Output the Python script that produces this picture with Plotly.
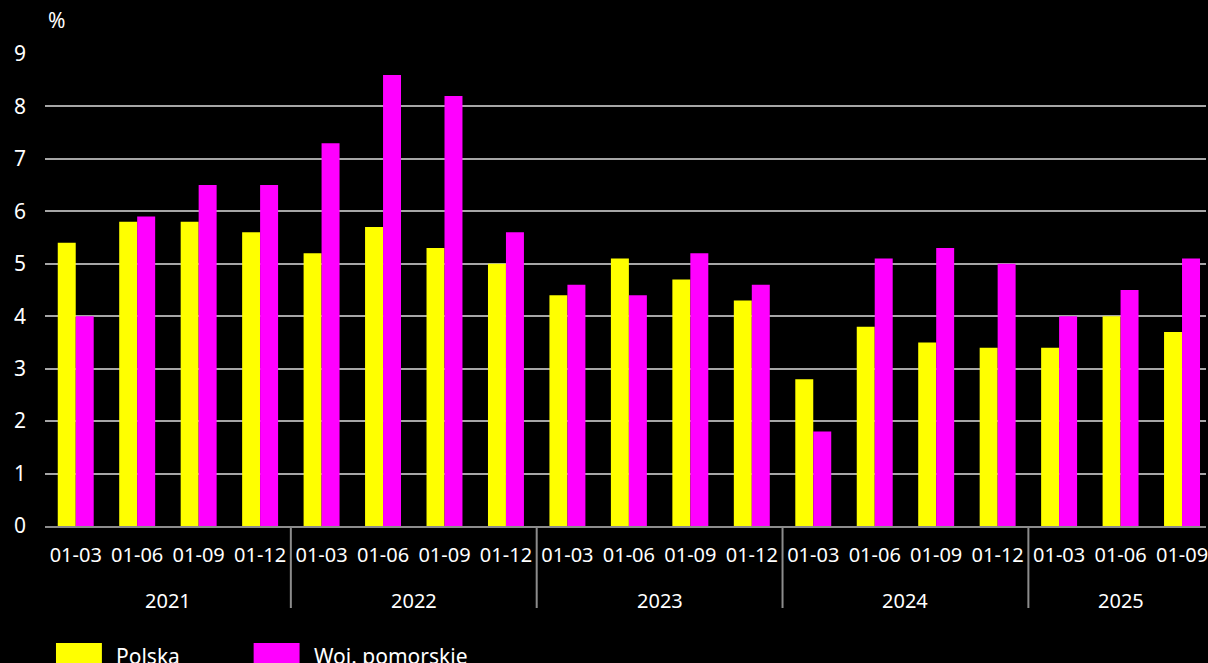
import plotly.graph_objects as go

years = ["2021"] * 4 + ["2022"] * 4 + ["2023"] * 4 + ["2024"] * 4 + ["2025"] * 3
months = ["01-03", "01-06", "01-09", "01-12"] * 4 + ["01-03", "01-06", "01-09"]
polska = [5.4, 5.8, 5.8, 5.6, 5.2, 5.7, 5.3, 5.0, 4.4, 5.1, 4.7, 4.3, 2.8, 3.8, 3.5, 3.4, 3.4, 4.0, 3.7]
pomorskie = [4.0, 5.9, 6.5, 6.5, 7.3, 8.6, 8.2, 5.6, 4.6, 4.4, 5.2, 4.6, 1.8, 5.1, 5.3, 5.0, 4.0, 4.5, 5.1]
y_ticks = [0, 1, 2, 3, 4, 5, 6, 7, 8, 9]

YELLOW = "#FFFF00"
MAGENTA = "#FF00FF"
GREY = "#8c8c8c"
FONT = "Noto Sans"

idx = list(range(len(months)))

fig = go.Figure()
fig.add_trace(go.Bar(x=idx, y=polska, name="Polska", marker_color=YELLOW,
                     marker_line_width=0, customdata=years))
fig.add_trace(go.Bar(x=idx, y=pomorskie, name="Woj. pomorskie", marker_color=MAGENTA,
                     marker_line_width=0, customdata=years))

PLOT_H = 663 - 54 - 137

fig.update_layout(
    width=1208, height=663,
    paper_bgcolor="black", plot_bgcolor="black",
    margin=dict(l=45, r=0, t=54, b=137),
    barmode="group", bargap=0.415, bargroupgap=0,
    showlegend=False,
    font=dict(family=FONT, size=21, color="white"),
)
fig.update_xaxes(
    range=[-0.5, 18.39],
    tickvals=idx, ticktext=months,
    showgrid=False, zeroline=False,
    showline=True, linecolor=GREY, linewidth=2,
    tickfont=dict(family=FONT, size=20, color="white"),
    tickangle=0, ticklabeloverflow="allow",
    ticks="", ticklabelstandoff=10,
)
fig.update_yaxes(
    range=[0, 9], tickvals=y_ticks,
    showgrid=True, gridcolor="#a6a6a6", gridwidth=1.5,
    zeroline=False,
    showline=False,
    ticks="", ticklabelstandoff=18,
    tickfont=dict(family=FONT, size=21, color="white"),
)

# year labels and dividers
unique_years = []
for yv in years:
    if yv not in unique_years:
        unique_years.append(yv)
for k, yv in enumerate(unique_years):
    pos = [i for i, v in enumerate(years) if v == yv]
    fig.add_annotation(x=sum(pos) / len(pos), xref="x", y=-(600 - 526) / PLOT_H, yref="paper",
                       text=yv, showarrow=False, yanchor="middle",
                       font=dict(family=FONT, size=20, color="white"))
    if k > 0:
        fig.add_shape(type="line", xref="x", yref="paper", x0=pos[0] - 0.5, x1=pos[0] - 0.5,
                      y0=0, y1=-(608 - 526) / PLOT_H, line=dict(color=GREY, width=2))

fig.add_annotation(x=0, y=1, xref="paper", yref="paper", text="%", showarrow=False,
                   xanchor="left", yanchor="bottom", yshift=18, xshift=1,
                   font=dict(family=FONT, size=21, color="white"))

# legend
legend_items = [("Polska", YELLOW, 56), ("Woj. pomorskie", MAGENTA, 254)]
for label, color, x0 in legend_items:
    fig.add_shape(type="rect", xref="paper", yref="paper",
                  x0=(x0 - 45) / 1163, x1=(x0 + 46 - 45) / 1163,
                  y0=(526 - 663) / PLOT_H, y1=(526 - 643) / PLOT_H,
                  fillcolor=color, line_width=0)
    fig.add_annotation(xref="paper", yref="paper", x=(x0 + 58 - 45) / 1163,
                       y=(526 - 640) / PLOT_H, text=label, showarrow=False,
                       xanchor="left", yanchor="top",
                       font=dict(family=FONT, size=21, color="white"))

fig.write_html(
    "out.html",
    config={"displayModeBar": False},
    post_script="document.body.style.margin='0';document.body.style.background='black';"
                "document.body.style.overflow='hidden';",
)
